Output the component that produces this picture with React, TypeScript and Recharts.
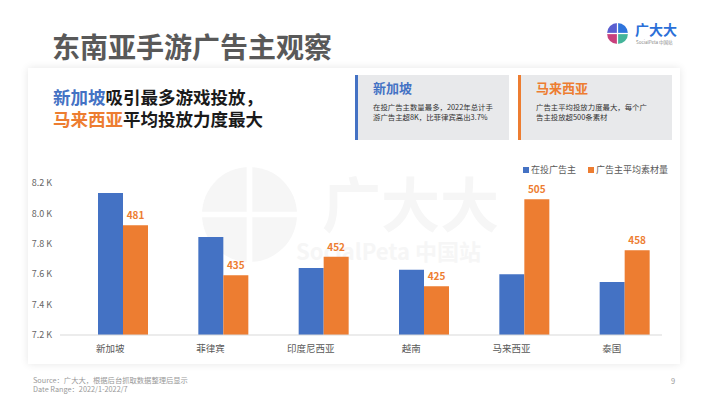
import React from 'react';
import { BarChart, Bar, XAxis, YAxis, LabelList } from 'recharts';

const countries = ['新加坡', '菲律宾', '印度尼西亚', '越南', '马来西亚', '泰国'];
const advertisers = [8135, 7845, 7640, 7630, 7600, 7548];
const avgCreatives = [481, 435, 452, 425, 505, 458];
const leftTicks = [7200, 7400, 7600, 7800, 8000, 8200];

const BLUE = '#4472C4';
const ORANGE = '#ED7D31';
const FONT = '"Noto Sans CJK SC", "Noto Sans", sans-serif';

const chartData = countries.map((name, i) => ({
  name,
  advertisers: advertisers[i],
  avgCreatives: avgCreatives[i],
}));

const abs = (s: React.CSSProperties): React.CSSProperties => ({ position: 'absolute', ...s });

function Logo({ size, color }: { size: number; color?: string }) {
  // little quartered circle, same shape used for the faint watermark
  const r = size / 2;
  const c = (q: string) => color || q;
  return (
    <svg width={size} height={size} viewBox={`0 0 ${size} ${size}`}>
      <path d={`M${r},${r} L${r},0 A${r},${r} 0 0 0 0,${r} Z`} fill={c('#5a5fd0')} />
      <path d={`M${r},${r} L0,${r} A${r},${r} 0 0 0 ${r},${size} Z`} fill={c('#c8407c')} />
      <path d={`M${r},${r} L${size},${r} A${r},${r} 0 0 0 ${r},0 Z`} fill={c('#2f74dc')} />
      <path d={`M${r},${r} L${r},${size} A${r},${r} 0 0 0 ${size},${r} Z`} fill={c('#44b49a')} />
      <line x1={r} y1={0} x2={r} y2={size} stroke="#fff" strokeWidth={size * 0.06} />
      <line x1={0} y1={r} x2={size} y2={r} stroke="#fff" strokeWidth={size * 0.06} />
    </svg>
  );
}

export default function App() {
  return (
    <div style={{ position: 'absolute', left: 0, top: 0, width: 710, height: 399, background: '#fff', overflow: 'hidden', fontFamily: FONT }}>
      {/* page title */}
      <div style={abs({ left: 52, top: 31, fontSize: 28, lineHeight: '30px', fontWeight: 700, color: '#595959', whiteSpace: 'nowrap' })}>
        东南亚手游广告主观察
      </div>

      {/* brand logo */}
      <div style={abs({ left: 607, top: 23 })}><Logo size={21} /></div>
      <div style={abs({ left: 635, top: 22, fontSize: 14, lineHeight: '14px', fontWeight: 700, color: '#2b6fd8', whiteSpace: 'nowrap' })}>广大大</div>
      <div style={abs({ left: 636, top: 40, fontSize: 4.5, lineHeight: '5px', color: '#888', whiteSpace: 'nowrap' })}>SocialPeta 中国站</div>

      {/* card */}
      <div style={abs({ left: 28, top: 68, width: 652, height: 296, background: '#fff', boxShadow: '0 0 8px rgba(0,0,0,0.10)' })} />

      {/* headline */}
      <div style={abs({ left: 53, top: 86, fontSize: 17.5, lineHeight: '22px', fontWeight: 700, color: '#1a1a1a', whiteSpace: 'nowrap' })}>
        <div><span style={{ color: BLUE }}>新加坡</span>吸引最多游戏投放，</div>
        <div><span style={{ color: ORANGE }}>马来西亚</span>平均投放力度最大</div>
      </div>

      {/* info boxes */}
      {[
        { left: 355, color: BLUE, title: '新加坡', lines: ['在投广告主数量最多，2022年总计手', '游广告主超8K，比菲律宾高出3.7%'] },
        { left: 518, color: ORANGE, title: '马来西亚', lines: ['广告主平均投放力度最大，每个广', '告主投放超500条素材'] },
      ].map((b) => (
        <div key={b.title} style={abs({ left: b.left, top: 75, width: 151, height: 65, background: '#e8e9eb', borderLeft: `3px solid ${b.color}` })}>
          <div style={abs({ left: 15, top: 4, fontSize: 13, lineHeight: '18px', fontWeight: 700, color: b.color, whiteSpace: 'nowrap' })}>{b.title}</div>
          <div style={abs({ left: 15, top: 27, fontSize: 7.4, lineHeight: '10px', color: '#333', whiteSpace: 'nowrap' })}>
            {b.lines.map((l) => <div key={l}>{l}</div>)}
          </div>
        </div>
      ))}

      {/* faint watermark behind the chart */}
      <div style={abs({ left: 202, top: 167 })}><Logo size={95} color="#f6f6f6" /></div>
      <div style={abs({ left: 322, top: 172, fontSize: 59, lineHeight: '60px', fontWeight: 700, color: '#f6f6f6', whiteSpace: 'nowrap' })}>广大大</div>
      <div style={abs({ left: 296, top: 238, fontSize: 22, lineHeight: '24px', fontWeight: 700, color: '#f6f6f6', whiteSpace: 'nowrap' })}>SocialPeta 中国站</div>

      {/* legend */}
      <div style={abs({ left: 523, top: 163, fontSize: 9, lineHeight: '14px', color: '#595959', whiteSpace: 'nowrap', display: 'flex', alignItems: 'center' })}>
        <span style={{ width: 6, height: 6, background: BLUE, marginRight: 2 }} />
        <span>在投广告主</span>
        <span style={{ width: 6, height: 6, background: ORANGE, marginLeft: 12, marginRight: 2 }} />
        <span>广告主平均素材量</span>
      </div>

      {/* chart */}
      <div style={abs({ left: 0, top: 160 })}>
        <BarChart width={710} height={230} data={chartData} margin={{ top: 23, right: 48, left: 10, bottom: 25 }} barGap={0} barSize={25}>
          <XAxis
            dataKey="name"
            axisLine={{ stroke: '#d9d9d9' }}
            tickLine={false}
            tickSize={0}
            tickMargin={10}
            height={30}
            interval={0}
            tick={{ fontSize: 9.5, fill: '#595959', fontFamily: FONT }}
          />
          <YAxis
            yAxisId="left"
            domain={[7200, 8200]}
            ticks={leftTicks}
            width={50}
            axisLine={false}
            tickLine={false}
            tickSize={0}
            tickMargin={8}
            tick={{ fontSize: 9, fill: '#666', fontFamily: FONT }}
            tickFormatter={(v: number) => `${(v / 1000).toFixed(1)} K`}
          />
          <YAxis yAxisId="right" orientation="right" domain={[380, 520]} hide />
          {/* empty slot so the blue bar sits on the category centre like the original */}
          <Bar yAxisId="left" dataKey="spacer" fill="none" isAnimationActive={false} />
          <Bar yAxisId="left" dataKey="advertisers" fill={BLUE} isAnimationActive={false} />
          <Bar yAxisId="right" dataKey="avgCreatives" fill={ORANGE} isAnimationActive={false}>
            <LabelList dataKey="avgCreatives" position="top" offset={6} fill={ORANGE} fontSize={10} fontWeight={700} fontFamily={FONT} />
          </Bar>
        </BarChart>
      </div>

      {/* footer */}
      <div style={abs({ left: 33, top: 376, fontSize: 7.3, lineHeight: '9px', color: '#999', whiteSpace: 'nowrap' })}>
        <div>Source：广大大，根据后台抓取数据整理后显示</div>
        <div>Date Range：2022/1-2022/7</div>
      </div>
      <div style={abs({ left: 671, top: 376, fontSize: 7.5, lineHeight: '9px', color: '#999' })}>9</div>
    </div>
  );
}
